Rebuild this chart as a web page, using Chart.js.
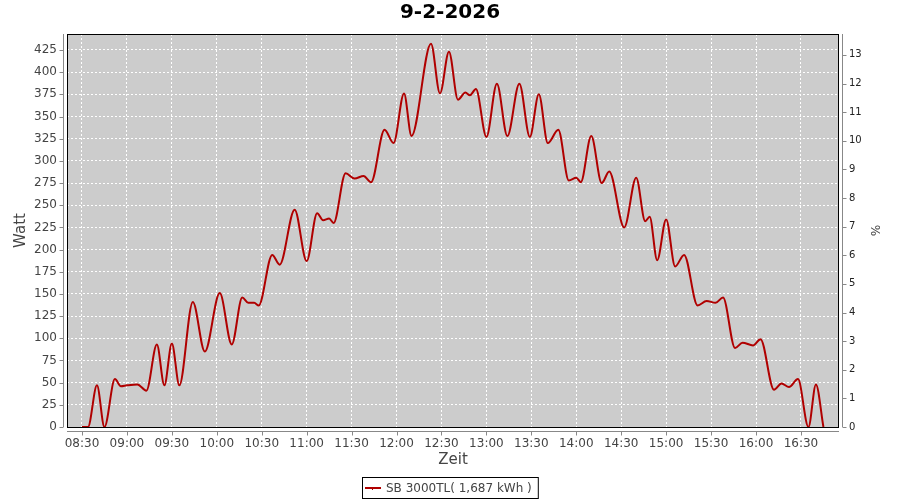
<!DOCTYPE html>
<html>
<head>
<meta charset="utf-8">
<script src="https://cdn.jsdelivr.net/npm/chart.js@4/dist/chart.umd.min.js"></script>
<style>
  body { margin: 0; background: #fff; }
</style>
</head>
<body>
<canvas id="myChart" width="900" height="500"></canvas>
<script>
// ---- data ----
const times = ['08:30','08:34','08:40','08:45','08:52','08:56','09:00','09:07','09:13','09:20',
  '09:25','09:30','09:35','09:44','09:52','10:02','10:10','10:17','10:21','10:25',
  '10:28','10:37','10:42','10:52','11:00','11:07','11:11','11:15','11:18','11:26',
  '11:32','11:38','11:43','11:52','11:58','12:05','12:10','12:23','12:29','12:35',
  '12:41','12:46','12:49','12:53','13:00','13:07','13:14','13:22','13:29','13:35',
  '13:41','13:48','13:55','14:00','14:03','14:10','14:17','14:22','14:32','14:40',
  '14:46','14:49','14:54','15:00','15:06','15:12','15:21','15:27','15:33','15:38',
  '15:46','15:51','15:58','16:03','16:12','16:17','16:22','16:28','16:35','16:40','16:45'];
const watt = [0, 0, 47, 0, 54, 46, 47, 48, 41, 93,
  47, 94, 47, 141, 85, 151, 93, 146, 140, 140,
  137, 194, 183, 245, 187, 241, 233, 235, 230, 286,
  280, 283, 276, 335, 320, 376, 328, 432, 376, 423,
  369, 377, 374, 381, 327, 387, 328, 387, 327, 375,
  320, 335, 278, 281, 276, 328, 275, 288, 225, 281,
  232, 237, 188, 234, 181, 194, 137, 142, 140, 146,
  89, 95, 92, 99, 42, 49, 45, 54, 0, 48, 0];

const xTicks = ['08:30','09:00','09:30','10:00','10:30','11:00','11:30','12:00','12:30',
  '13:00','13:30','14:00','14:30','15:00','15:30','16:00','16:30'];
const wattTicks = [0,25,50,75,100,125,150,175,200,225,250,275,300,325,350,375,400,425];
const pctTicks = [0,1,2,3,4,5,6,7,8,9,10,11,12,13];

const xRange = ['08:20', '16:55'];
const wattMax = 443;
const pctMax = 13.73;

const seriesName = 'SB 3000TL( 1,687 kWh )';
const title = '9-2-2026';

// ---- helpers ----
function toMin(s) { const p = s.split(':').map(Number); return p[0] * 60 + p[1]; }
function fmt(v) {
  const h = Math.floor(v / 60), m = Math.round(v % 60);
  return String(h).padStart(2, '0') + ':' + String(m).padStart(2, '0');
}

const points = times.map((t, i) => ({ x: toMin(t), y: watt[i] }));

Chart.defaults.font.family = 'DejaVu Sans';
Chart.defaults.color = '#444';

// grey plot background + black frame + offset axis lines + legend box
const frame = {
  id: 'frame',
  beforeDraw(chart) {
    const { ctx, chartArea: a } = chart;
    ctx.save();
    ctx.fillStyle = '#cccccc';
    ctx.fillRect(a.left, a.top, a.right - a.left, a.bottom - a.top);
    ctx.restore();
  },
  afterDraw(chart) {
    const { ctx, chartArea: a, scales } = chart;
    ctx.save();
    ctx.strokeStyle = '#000';
    ctx.lineWidth = 1;
    ctx.strokeRect(a.left + 0.5, a.top + 0.5, a.right - a.left - 1, a.bottom - a.top);

    ctx.strokeStyle = '#888';
    ctx.beginPath();
    // left axis
    ctx.moveTo(a.left - 3.5, a.top); ctx.lineTo(a.left - 3.5, a.bottom);
    scales.y.ticks.forEach(t => {
      const y = Math.round(scales.y.getPixelForValue(t.value)) + 0.5;
      ctx.moveTo(a.left - 3.5, y); ctx.lineTo(a.left - 7.5, y);
    });
    // right axis
    ctx.moveTo(a.right + 3.5, a.top); ctx.lineTo(a.right + 3.5, a.bottom);
    scales.y1.ticks.forEach(t => {
      const y = Math.round(scales.y1.getPixelForValue(t.value)) + 0.5;
      ctx.moveTo(a.right + 3.5, y); ctx.lineTo(a.right + 7.5, y);
    });
    // bottom axis
    ctx.moveTo(a.left, a.bottom + 4.5); ctx.lineTo(a.right, a.bottom + 4.5);
    scales.x.ticks.forEach(t => {
      const x = Math.round(scales.x.getPixelForValue(t.value)) + 0.5;
      ctx.moveTo(x, a.bottom + 4.5); ctx.lineTo(x, a.bottom + 8.5);
    });
    ctx.stroke();

    // legend
    ctx.font = '12px DejaVu Sans';
    const w = ctx.measureText(seriesName).width;
    const bw = w + 30, bh = 21;
    const bx = Math.round(450 - bw / 2), by = 477;
    ctx.fillStyle = '#fff';
    ctx.fillRect(bx, by, bw, bh);
    ctx.strokeStyle = '#000';
    ctx.strokeRect(bx + 0.5, by + 0.5, bw, bh);
    ctx.strokeStyle = '#b00000';
    ctx.lineWidth = 2;
    ctx.beginPath();
    ctx.moveTo(bx + 3, by + 11); ctx.lineTo(bx + 19, by + 11);
    ctx.stroke();
    ctx.fillStyle = '#b00000';
    ctx.fillRect(bx + 10, by + 11, 1, 2);
    ctx.fillStyle = '#444';
    ctx.textBaseline = 'middle';
    ctx.fillText(seriesName, bx + 24, by + 11.5);
    ctx.restore();
  }
};

new Chart(document.getElementById('myChart').getContext('2d'), {
  type: 'line',
  data: {
    datasets: [{
      label: seriesName,
      data: points,
      borderColor: '#b00000',
      borderWidth: 2,
      pointRadius: 0,
      cubicInterpolationMode: 'monotone',
      yAxisID: 'y'
    }]
  },
  options: {
    responsive: false,
    animation: false,
    layout: { padding: { left: 0, right: 0, top: 0, bottom: 28 } },
    plugins: {
      legend: { display: false },
      tooltip: { enabled: false },
      title: {
        display: true,
        text: title,
        color: '#000',
        font: { size: 20, weight: 'bold' },
        padding: { top: 1, bottom: 9 }
      }
    },
    scales: {
      x: {
        type: 'linear',
        min: toMin(xRange[0]),
        max: toMin(xRange[1]) + 0.4,
        afterBuildTicks: s => { s.ticks = xTicks.map(t => ({ value: toMin(t) })); },
        afterFit: s => { s.height = 45; },
        ticks: { callback: v => fmt(v), font: { size: 12 }, color: '#444', padding: 10, maxRotation: 0 },
        grid: { color: '#fff', lineWidth: 1, drawTicks: false },
        border: { display: false, dash: [2, 2] },
        title: { display: true, text: 'Zeit', font: { size: 15 }, color: '#444', padding: { top: 0, bottom: 3 } }
      },
      y: {
        position: 'left',
        min: 0,
        max: wattMax,
        afterBuildTicks: s => { s.ticks = wattTicks.map(v => ({ value: v })); },
        afterFit: s => { s.width = 67; },
        ticks: { font: { size: 12 }, color: '#444', padding: 10 },
        grid: { color: '#fff', lineWidth: 1, drawTicks: false },
        border: { display: false, dash: [2, 2] },
        title: { display: true, text: 'Watt', font: { size: 15 }, color: '#444', padding: { top: 12, bottom: 0 } }
      },
      y1: {
        position: 'right',
        min: 0,
        max: pctMax,
        afterBuildTicks: s => { s.ticks = pctTicks.map(v => ({ value: v })); },
        afterFit: s => { s.width = 61; },
        ticks: { font: { size: 10 }, color: '#222', padding: 10 },
        grid: { drawOnChartArea: false, drawTicks: false },
        border: { display: false },
        title: { display: true, text: '%', font: { size: 12 }, color: '#444', padding: { top: 19, bottom: 0 } }
      }
    }
  },
  plugins: [frame]
});
</script>
</body>
</html>
